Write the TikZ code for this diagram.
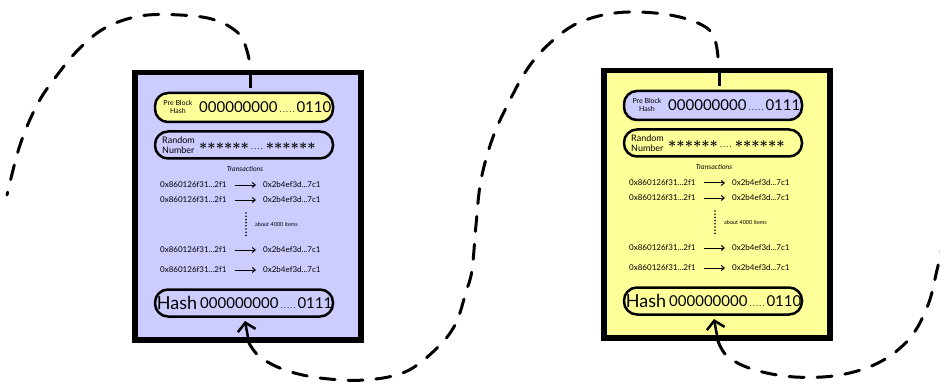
\documentclass[tikz,border=0pt]{standalone}
\usepackage{fontspec}
\setmainfont{Lato}
\usetikzlibrary{arrows.meta}
\definecolor{lav}{HTML}{CCCCFF}
\definecolor{yel}{HTML}{FFFF99}
\newcommand\mydots[1]{{\fontsize{8}{9}\selectfont\leaders\hbox to 3.2pt{\hss.\hss}\hskip #1\relax}}
\newcommand\oneast{\hbox{\boldmath$\ast$}}
\newcommand\astsix{{\fontsize{15}{18}\selectfont\oneast\oneast\oneast\oneast\oneast\oneast}}
\tikzset{
  blockbox/.style={draw, line width=5.5pt, fill=#1, inner sep=0pt},
  pill/.style={draw, line width=2.5pt, rounded corners=13pt, fill=#1, inner sep=0pt, minimum width=178pt},
  bigtxt/.style={font=\fontsize{15}{18}\selectfont, inner sep=0pt},
  smalltxt/.style={font=\fontsize{8}{9}\selectfont, inner sep=0pt},
  looppath/.style={line width=3pt, dash pattern=on 15pt off 13pt, line cap=round},
  txarrow/.style={line width=1pt, -{Straight Barb[length=3pt,width=5pt]}},
  uparrow/.style={line width=2.5pt, -{Straight Barb[length=8pt,width=18pt]}},
}
\newcommand\drawblock[7]{%
\begin{scope}[shift={(#2,#3)}]
  \node[blockbox=#4, minimum width=226pt, minimum height=267pt, anchor=north west] (#1box) at (132,70) {};
  \coordinate (#1tickA) at (250,75);
  \coordinate (#1tickB) at (250,88);
  \draw[line width=3pt] (#1tickA) -- (#1tickB);
  \coordinate (#1top) at (249,59);
  \coordinate (#1bot) at (249,343);
  \coordinate (#1tip) at (245,321);
  % prev hash pill
  \node[pill=#5, minimum height=29pt] (#1prev) at (244,107.5) {};
  \node[font=\fontsize{7}{8}\selectfont, align=center, inner sep=0pt] (#1prevl) at (178,107) {Pre Block\\Hash};
  \node[bigtxt, anchor=west] (#1prevv) at (199,107) {000000000\mydots{19pt}#6};
  % random pill
  \node[pill=#4, minimum height=27pt] (#1rand) at (244,145) {};
  \node[font=\fontsize{9}{10}\selectfont, align=left, inner sep=0pt, anchor=west] (#1randl) at (162,145) {Random\\Number};
  \node[inner sep=0pt, anchor=west] (#1randv) at (199,146) {\astsix\mydots{17pt}\astsix};
  % transactions
  \node[font=\itshape\fontsize{7}{8}\selectfont, inner sep=0pt] (#1trans) at (245,169) {Transactions};
  \foreach \n/\yy in {1/185,2/200,3/250,4/270}{
    \node[smalltxt, anchor=west] (#1t\n l) at (160,\yy) {0x860126f31...2f1};
    \node[smalltxt, anchor=west] (#1t\n r) at (263,\yy) {0x2b4ef3d...7c1};
    \draw[txarrow] ([xshift=8pt]#1t\n l.east) -- ([xshift=-7pt]#1t\n r.west);
  }
  \coordinate (#1dotA) at (246,213);
  \coordinate (#1dotB) at (246,236);
  \draw[line width=1.8pt, dash pattern=on 0pt off 3.2pt, line cap=round] (#1dotA) -- (#1dotB);
  \node[font=\fontsize{5.5}{6}\selectfont, inner sep=0pt, anchor=west] (#1about) at (255,224) {about 4000 items};
  % hash pill
  \node[pill=#4, minimum height=27pt] (#1hash) at (244,303) {};
  \node[font=\fontsize{18}{20}\selectfont, inner sep=0pt] (#1hashl) at (177,303) {Hash};
  \node[bigtxt, anchor=west] (#1hashv) at (200,303) {000000000\mydots{19pt}#7};
  \draw[uparrow] (#1bot) -- (#1tip);
\end{scope}}
\begin{document}
\begin{tikzpicture}[x=1pt, y=-1pt]
  \useasboundingbox (0,0) rectangle (940,385);
  \fill[white] (0,0) rectangle (940,385);
  \drawblock{L}{0}{0}{lav}{yel}{0110}{0111}
  \drawblock{R}{469}{-2}{yel}{lav}{0111}{0110}
  \coordinate (Lend) at (7,195);
  \coordinate (Rend) at (942,248);
  % left block top loop
  \draw[looppath] plot[smooth, tension=0.6] coordinates {(Ltop) (240,35) (215,20) (180,15) (140,16) (105,28) (78,50) (55,78) (37,105) (20,145) (Lend)};
  % S-curve from right block top to left block bottom
  \draw[looppath] plot[smooth, tension=0.6] coordinates {(Rtop) (712,33) (690,20) (655,13) (615,13) (578,23) (550,43) (528,68) (510,100) (493,137) (481,180) (476,225) (472,270) (466,292) (455,325) (435,350) (405,372) (365,380) (320,378) (285,370) (260,357) (Lbot)};
  % right block bottom loop
  \draw[looppath] plot[smooth, tension=0.6] coordinates {(Rbot) (728,357) (755,370) (795,377) (840,375) (880,362) (910,338) (928,305) (937,270) (Rend)};
\end{tikzpicture}
\end{document}
